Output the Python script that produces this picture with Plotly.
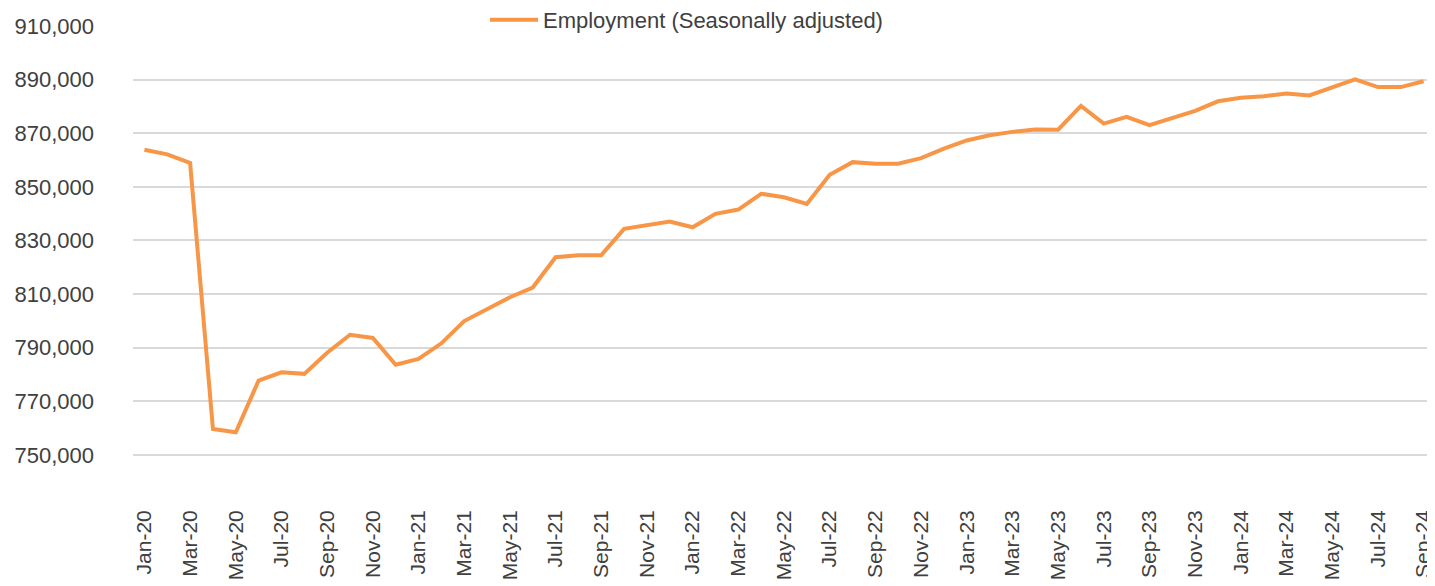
import plotly.graph_objects as go

months = ["Jan", "Feb", "Mar", "Apr", "May", "Jun", "Jul", "Aug", "Sep", "Oct", "Nov", "Dec"]
years = ["20", "21", "22", "23", "24"]
categories = [f"{m}-{y}" for y in years for m in months][:57]

employment = [
    863800, 862100, 858900, 759600, 758400, 777700, 780800, 780200, 788100, 794800, 793600, 783600,
    785800, 791600, 799900, 804300, 808800, 812400, 823700, 824500, 824500, 834300, 835800, 837000,
    834900, 839900, 841500, 847400, 846100, 843600, 854500, 859200, 858600, 858600, 860700, 864200,
    867300, 869200, 870500, 871400, 871300, 880200, 873600, 876100, 873000, 875800, 878300, 881900,
    883200, 883800, 884800, 884100, 887300, 890100, 887200, 887200, 889400,
]

y_ticks = [750000, 770000, 790000, 810000, 830000, 850000, 870000, 890000, 910000]
y_tick_labels = [f"{v:,}" for v in y_ticks]
x_tick_labels = categories[::2]

FONT = "Liberation Sans, Arial, sans-serif"
TEXT = "#404040"

fig = go.Figure()
fig.add_trace(go.Scatter(
    x=categories, y=employment, mode="lines",
    name="Employment (Seasonally adjusted)",
    line=dict(color="#F79646", width=4),
))

# page body has an 8px default margin, so the figure is 8px smaller than the window
fig.update_layout(
    width=1427, height=578,
    margin=dict(l=125, r=0, t=18, b=91, autoexpand=False),
    paper_bgcolor="white", plot_bgcolor="white",
    font=dict(family=FONT, size=22, color=TEXT),
    showlegend=True,
    legend=dict(
        orientation="h", x=352 / 1302, xanchor="left",
        y=1 + 6 / 469, yanchor="middle",
        font=dict(family=FONT, size=22, color=TEXT),
        bgcolor="rgba(0,0,0,0)", itemwidth=48,
    ),
    xaxis=dict(
        type="category", categoryorder="array", categoryarray=categories,
        range=[-0.5, 56.5], automargin=False,
        tickmode="array", tickvals=x_tick_labels, ticktext=x_tick_labels,
        tickangle=-90, showgrid=False, showline=False, zeroline=False,
        ticks="", ticklabelstandoff=10,
        tickfont=dict(family=FONT, size=21, color=TEXT),
    ),
    yaxis=dict(
        range=[735000, 910000], automargin=False,
        tickmode="array", tickvals=y_ticks, ticktext=y_tick_labels,
        showgrid=True, gridcolor="#D9D9D9", gridwidth=1.5,
        showline=False, zeroline=False, ticks="", ticklabelstandoff=38,
        tickfont=dict(family=FONT, size=22, color=TEXT),
    ),
)

fig.write_html("out.html")
